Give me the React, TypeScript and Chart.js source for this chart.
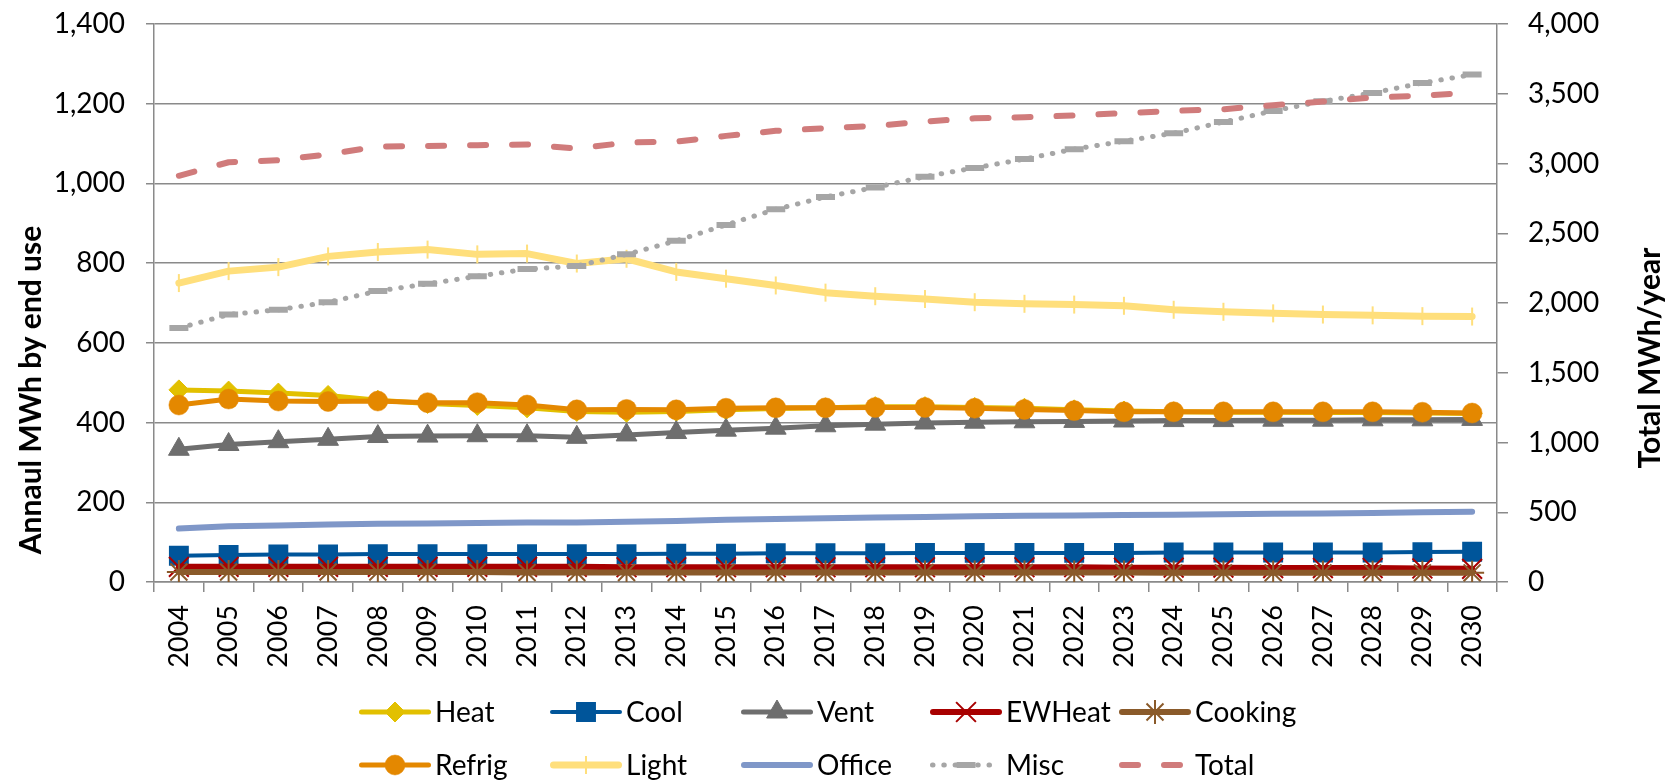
import React, { useEffect, useRef } from 'react';
import { Chart, registerables } from 'chart.js';
import { drawPoint } from 'chart.js/helpers';

Chart.register(...registerables);

// Years on the category axis
const years = [
  '2004', '2005', '2006', '2007', '2008', '2009', '2010', '2011', '2012',
  '2013', '2014', '2015', '2016', '2017', '2018', '2019', '2020', '2021',
  '2022', '2023', '2024', '2025', '2026', '2027', '2028', '2029', '2030',
];

// Annual MWh by end use (left axis)
const heat = [482, 479, 474, 468, 456, 448, 443, 437, 428, 426, 428, 432, 435, 437, 440, 440, 438, 436, 432, 429, 427, 426, 426, 425, 425, 424, 423];
const cool = [66, 68, 69, 69, 70, 70, 70, 70, 70, 70, 71, 71, 72, 72, 72, 73, 73, 73, 73, 73, 74, 74, 74, 74, 74, 75, 76];
const vent = [333, 345, 352, 358, 365, 366, 367, 367, 363, 369, 375, 381, 386, 392, 396, 399, 401, 402, 403, 404, 405, 405, 406, 406, 407, 407, 408];
const ewHeat = [38, 38, 38, 38, 38, 38, 38, 38, 38, 37, 37, 37, 37, 37, 37, 37, 37, 37, 37, 36, 36, 36, 35, 35, 35, 34, 33];
const cooking = [25, 25, 25, 25, 25, 25, 25, 24, 24, 24, 24, 24, 24, 24, 24, 24, 24, 24, 24, 24, 23, 23, 23, 23, 23, 23, 23];
const refrig = [444, 459, 454, 453, 454, 450, 450, 444, 432, 433, 432, 436, 437, 437, 438, 438, 436, 433, 430, 427, 427, 427, 427, 427, 427, 426, 424];
const light = [750, 780, 790, 817, 828, 834, 822, 824, 799, 811, 778, 761, 744, 726, 717, 710, 702, 698, 696, 693, 683, 678, 674, 671, 669, 667, 666];
const office = [134, 140, 142, 144, 146, 147, 148, 149, 149, 151, 153, 156, 158, 160, 162, 163, 165, 166, 167, 168, 169, 170, 171, 172, 173, 175, 176];
const misc = [637, 671, 683, 702, 730, 748, 767, 785, 793, 822, 856, 896, 935, 966, 990, 1017, 1039, 1061, 1086, 1106, 1126, 1154, 1182, 1206, 1227, 1252, 1273];

// Total MWh/year (right axis)
const total = [2912, 3009, 3023, 3066, 3121, 3126, 3131, 3136, 3107, 3150, 3157, 3198, 3234, 3253, 3270, 3301, 3324, 3332, 3344, 3361, 3377, 3389, 3418, 3444, 3473, 3487, 3507];

// Axis ranges and titles
const leftMax = 1400;
const leftStep = 200;
const rightMax = 4000;
const rightStep = 500;
const leftTitle = 'Annaul MWh by end use';
const rightTitle = 'Total MWh/year';

const FONT = 'Lato, "Open Sans", "DejaVu Sans", sans-serif';
const GRID = '#8a8a8a';

type SeriesStyle = {
  label: string;
  data: number[];
  axis: 'y' | 'y2';
  color: string;
  width: number;
  dash?: number[];
  point?: string;
  radius?: number;
  pointWidth?: number;
  rotation?: number;
};

const series: SeriesStyle[] = [
  { label: 'Heat', data: heat, axis: 'y', color: '#E2C000', width: 5, point: 'rectRot', radius: 10, pointWidth: 1 },
  { label: 'Cool', data: cool, axis: 'y', color: '#00559A', width: 4, point: 'rect', radius: 13, pointWidth: 1.5 },
  { label: 'Vent', data: vent, axis: 'y', color: '#6E6E6E', width: 5, point: 'triangle', radius: 12, pointWidth: 1 },
  { label: 'EWHeat', data: ewHeat, axis: 'y', color: '#A80000', width: 6, point: 'crossRot', radius: 14, pointWidth: 2 },
  { label: 'Cooking', data: cooking, axis: 'y', color: '#8A5A2A', width: 6, point: 'star', radius: 12, pointWidth: 2 },
  { label: 'Refrig', data: refrig, axis: 'y', color: '#E48800', width: 5, point: 'circle', radius: 10, pointWidth: 0.5 },
  { label: 'Light', data: light, axis: 'y', color: '#FFDF7C', width: 7, point: 'line', radius: 9, pointWidth: 2, rotation: 90 },
  { label: 'Office', data: office, axis: 'y', color: '#7F97C8', width: 6 },
  { label: 'Misc', data: misc, axis: 'y', color: '#A6A6A6', width: 5, dash: [0.5, 10.8], point: 'line', radius: 9.5, pointWidth: 6 },
  { label: 'Total', data: total, axis: 'y2', color: '#D07B7B', width: 6, dash: [16, 26] },
];

// Legend grid: five columns, two rows
const LEGEND_COLS = [359, 550, 741, 930, 1119];
const LEGEND_ROWS = [712, 765];
const LEGEND_LINE = 72;

const legendAndTitles = {
  id: 'legendAndTitles',
  afterDraw(chart: any) {
    const ctx: CanvasRenderingContext2D = chart.ctx;
    ctx.save();
    chart.data.datasets.forEach((ds: any, i: number) => {
      const x0 = LEGEND_COLS[i % 5];
      const y = LEGEND_ROWS[Math.floor(i / 5)];
      ctx.strokeStyle = ds.borderColor;
      ctx.lineWidth = ds.borderWidth;
      ctx.lineCap = 'round';
      ctx.setLineDash(ds.borderDash || []);
      ctx.beginPath();
      ctx.moveTo(x0 + ds.borderWidth / 2, y);
      ctx.lineTo(x0 + LEGEND_LINE - ds.borderWidth / 2, y);
      ctx.stroke();
      ctx.setLineDash([]);
      ctx.lineCap = 'butt';
      if (ds.pointRadius > 0) {
        ctx.fillStyle = ds.pointBackgroundColor;
        ctx.strokeStyle = ds.pointBorderColor;
        ctx.lineWidth = ds.pointBorderWidth;
        drawPoint(ctx, {
          pointStyle: ds.pointStyle,
          rotation: ds.pointRotation || 0,
          radius: ds.pointRadius,
          borderWidth: ds.pointBorderWidth,
        } as any, x0 + LEGEND_LINE / 2, y);
      }
      ctx.fillStyle = '#000';
      ctx.font = `28px ${FONT}`;
      ctx.textAlign = 'left';
      ctx.textBaseline = 'middle';
      ctx.fillText(ds.label, x0 + LEGEND_LINE + 4, y + 1);
    });

    ctx.font = `bold 30px ${FONT}`;
    ctx.fillStyle = '#000';
    ctx.textAlign = 'center';
    ctx.textBaseline = 'middle';
    ctx.save();
    ctx.translate(31, 390);
    ctx.rotate(-Math.PI / 2);
    ctx.fillText(leftTitle, 0, 0);
    ctx.restore();
    ctx.save();
    ctx.translate(1650, 358);
    ctx.rotate(-Math.PI / 2);
    ctx.fillText(rightTitle, 0, 0);
    ctx.restore();
    ctx.restore();
  },
};

// Keep the plot area fixed: drop the extra room Chart.js reserves for edge labels
const clearPadding = (s: any) => {
  s.paddingTop = 0;
  s.paddingBottom = 0;
  s.paddingLeft = 0;
  s.paddingRight = 0;
};

export default function App() {
  const canvasRef = useRef<HTMLCanvasElement>(null);

  useEffect(() => {
    const canvas = canvasRef.current;
    if (!canvas) return;
    Chart.defaults.font.family = FONT;
    Chart.defaults.color = '#000';

    const n = series.length;
    const datasets = series.map((s, i) => ({
      label: s.label,
      data: s.data,
      yAxisID: s.axis,
      borderColor: s.color,
      backgroundColor: s.color,
      borderWidth: s.width,
      borderDash: s.dash || [],
      borderCapStyle: 'round',
      borderJoinStyle: 'round',
      tension: 0,
      fill: false,
      pointStyle: s.point || 'circle',
      pointRadius: s.point ? s.radius : 0,
      pointHoverRadius: s.point ? s.radius : 0,
      pointBorderWidth: s.pointWidth || 0,
      pointBackgroundColor: s.color,
      pointBorderColor: s.color,
      pointRotation: s.rotation || 0,
      // later series are painted above earlier ones
      order: n - i,
    }));

    const chart = new Chart(canvas, {
      type: 'line',
      data: { labels: years, datasets: datasets as any },
      plugins: [legendAndTitles],
      options: {
        responsive: false,
        animation: false,
        devicePixelRatio: 1,
        locale: 'en-US',
        layout: { padding: { top: 24, left: 0, right: 0, bottom: 0 } },
        plugins: {
          legend: { display: false },
          tooltip: { enabled: false },
          title: { display: false },
        },
        scales: {
          x: {
            type: 'category',
            offset: true,
            grid: {
              offset: true,
              drawOnChartArea: false,
              drawTicks: true,
              tickLength: 10,
              color: GRID,
              lineWidth: 1.5,
            },
            border: { color: GRID, width: 1.5 },
            ticks: {
              autoSkip: false,
              minRotation: 90,
              maxRotation: 90,
              padding: 13,
              color: '#000',
              font: { size: 27 },
            },
            afterFit: (s: any) => { s.height = 200; clearPadding(s); },
          },
          y: {
            position: 'left',
            min: 0,
            max: leftMax,
            ticks: { stepSize: leftStep, padding: 21, color: '#000', font: { size: 28 } },
            grid: { color: GRID, lineWidth: 1.5, tickLength: 8 },
            border: { color: GRID, width: 1.5 },
            afterFit: (s: any) => { s.width = 154; clearPadding(s); },
          },
          y2: {
            position: 'right',
            min: 0,
            max: rightMax,
            ticks: { stepSize: rightStep, padding: 20, color: '#000', font: { size: 28 } },
            grid: { drawOnChartArea: false, color: GRID, lineWidth: 1.5, tickLength: 11 },
            border: { color: GRID, width: 1.5 },
            afterFit: (s: any) => { s.width = 168; clearPadding(s); },
          },
        },
      } as any,
    });

    return () => chart.destroy();
  }, []);

  return (
    <div style={{ position: 'fixed', left: 0, top: 0, width: 1665, height: 782, background: '#fff' }}>
      <canvas ref={canvasRef} width={1665} height={782} style={{ display: 'block' }} />
    </div>
  );
}
